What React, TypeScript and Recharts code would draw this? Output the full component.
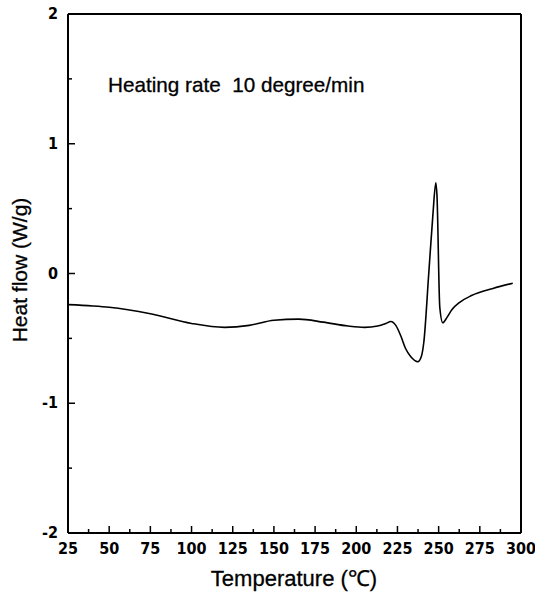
import React from "react";
import { LineChart, Line, XAxis, YAxis } from "recharts";

const temperature = [25, 40, 50, 75, 100, 120, 135, 150, 165, 180, 195, 205, 213, 218, 221, 224, 227, 230, 233, 237.4, 239.5, 241, 244, 246.5, 248.3, 249, 250.7, 252.5, 255, 258, 263, 270, 283, 295];
const heatFlow = [-0.24, -0.25, -0.26, -0.31, -0.385, -0.415, -0.4, -0.36, -0.352, -0.375, -0.405, -0.415, -0.405, -0.385, -0.37, -0.4, -0.48, -0.58, -0.64, -0.68, -0.64, -0.53, 0.0, 0.45, 0.7, 0.6, -0.26, -0.38, -0.34, -0.28, -0.22, -0.17, -0.115, -0.075];

const xTicks = [25, 37.5, 50, 62.5, 75, 87.5, 100, 112.5, 125, 137.5, 150, 162.5, 175, 187.5, 200, 212.5, 225, 237.5, 250, 262.5, 275, 287.5, 300];
const yTicks = [-2, -1.5, -1, -0.5, 0, 0.5, 1, 1.5, 2];

const data = temperature.map((t, i) => ({ t, h: heatFlow[i] }));

const FONT = "Arial, 'Liberation Sans', Helvetica, sans-serif";
const NARROW = "'Liberation Sans Narrow', 'Arial Narrow', 'DejaVu Sans Condensed', Arial, sans-serif";

const XTick = (props: any) => {
  const { x, y, payload } = props;
  const v = payload.value;
  const major = v % 25 === 0;
  return (
    <g>
      <line x1={x} x2={x} y1={y} y2={y - (major ? 7 : 4)} stroke="#000" strokeWidth={1.5} />
      {major && (
        <text x={x} y={y + 21} textAnchor="middle" fontSize={16} fontWeight="bold" fontFamily={NARROW} fill="#000">
          {v}
        </text>
      )}
    </g>
  );
};

const YTick = (props: any) => {
  const { x, y, payload } = props;
  const v = payload.value;
  const major = Number.isInteger(v);
  return (
    <g>
      <line x1={x} x2={x + (major ? 7 : 4)} y1={y} y2={y} stroke="#000" strokeWidth={1.5} />
      {major && (
        <text x={x - 10} y={y + 5} textAnchor="end" fontSize={16} fontWeight="bold" fontFamily={NARROW} fill="#000">
          {v}
        </text>
      )}
    </g>
  );
};

export default function App() {
  return (
    <div style={{ position: "absolute", left: 0, top: 0, background: "#fff" }}>
      <LineChart width={535} height={601} data={data} margin={{ top: 13, right: 13, bottom: 67, left: 67 }}>
        <XAxis
          dataKey="t"
          type="number"
          domain={[25, 300]}
          ticks={xTicks}
          interval={0}
          height={1}
          tickSize={0}
          tickMargin={0}
          tickLine={false}
          tick={XTick}
          axisLine={{ stroke: "#000", strokeWidth: 2 }}
          allowDataOverflow
          label={{
            content: () => (
              <text x={294} y={586} textAnchor="middle" fontSize={22} fontFamily={FONT} fill="#000" stroke="#000" strokeWidth={0.3}>
                Temperature (℃)
              </text>
            ),
          }}
        />
        <XAxis
          xAxisId="top"
          orientation="top"
          type="number"
          domain={[25, 300]}
          height={1}
          tick={false}
          tickLine={false}
          axisLine={{ stroke: "#000", strokeWidth: 2 }}
          label={{
            content: () => (
              <text x={108} y={92} fontSize={20.7} fontFamily={FONT} fill="#000" stroke="#000" strokeWidth={0.3} style={{ whiteSpace: "pre" }}>
                {"Heating rate  10 degree/min"}
              </text>
            ),
          }}
        />
        <YAxis
          type="number"
          domain={[-2, 2]}
          ticks={yTicks}
          interval={0}
          width={1}
          tickSize={0}
          tickMargin={0}
          tickLine={false}
          tick={YTick}
          axisLine={{ stroke: "#000", strokeWidth: 2 }}
          allowDataOverflow
          label={{
            content: () => (
              <text x={27} y={270} transform="rotate(-90, 27, 270)" textAnchor="middle" fontSize={21} fontFamily={FONT} fill="#000" stroke="#000" strokeWidth={0.3}>
                Heat flow (W/g)
              </text>
            ),
          }}
        />
        <YAxis
          yAxisId="right"
          orientation="right"
          type="number"
          domain={[-2, 2]}
          width={1}
          tick={false}
          tickLine={false}
          axisLine={{ stroke: "#000", strokeWidth: 2 }}
        />
        <Line
          type="monotone"
          dataKey="h"
          stroke="#000"
          strokeWidth={1.6}
          dot={false}
          isAnimationActive={false}
        />
      </LineChart>
    </div>
  );
}
